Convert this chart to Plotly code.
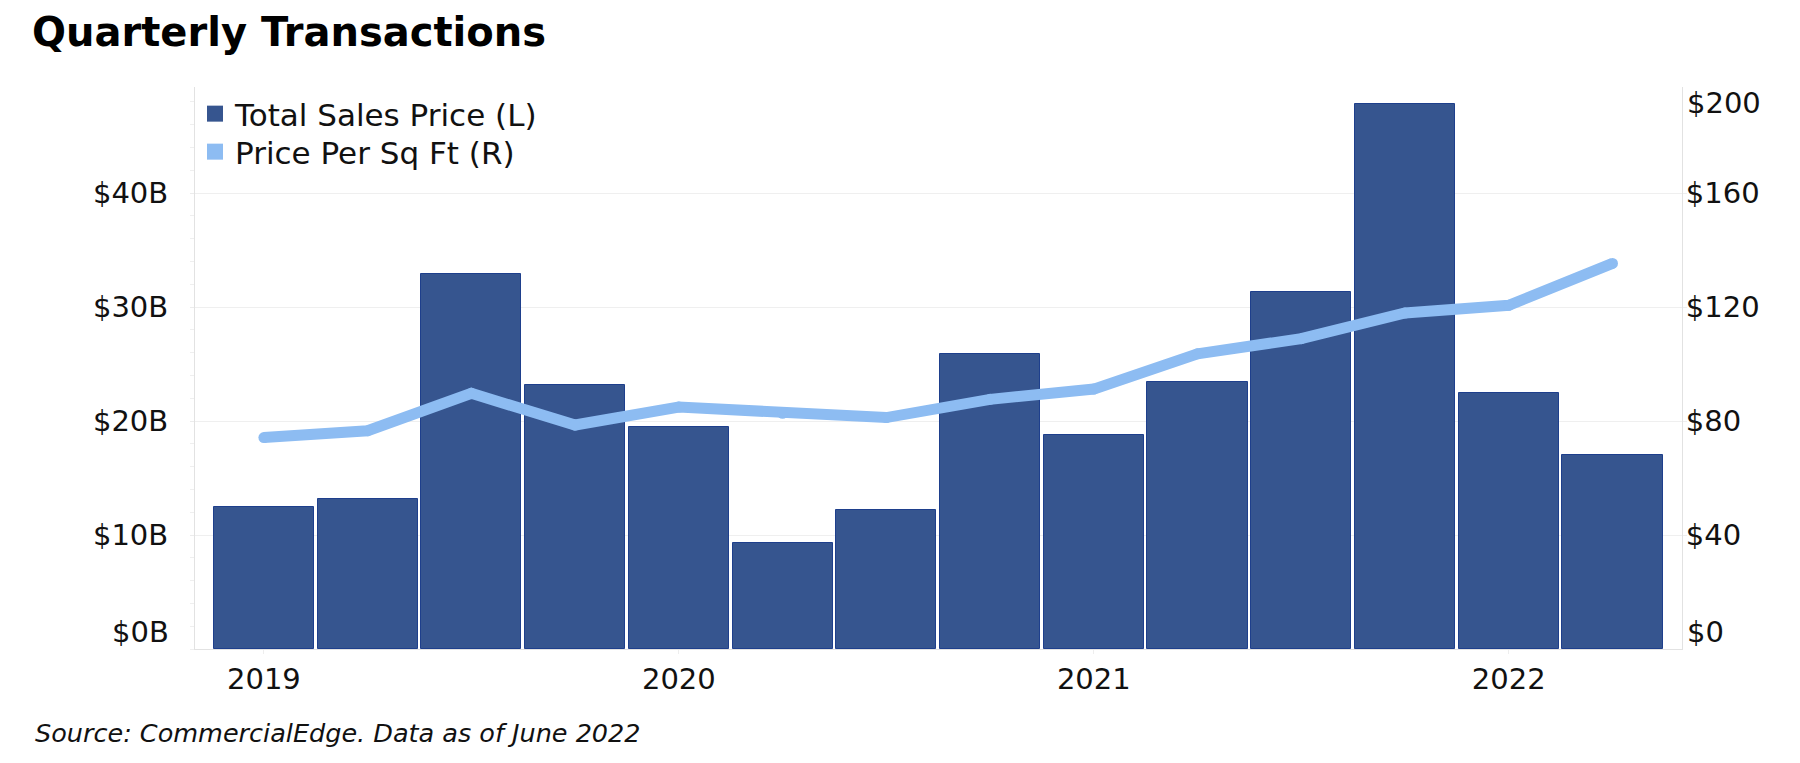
import plotly.graph_objects as go

quarters = ["2019 Q1", "2019 Q2", "2019 Q3", "2019 Q4",
            "2020 Q1", "2020 Q2", "2020 Q3", "2020 Q4",
            "2021 Q1", "2021 Q2", "2021 Q3", "2021 Q4",
            "2022 Q1", "2022 Q2"]
total_sales_b = [12.5, 13.2, 32.9, 23.2, 19.5, 9.3, 12.2, 25.9,
                 18.8, 23.4, 31.3, 47.8, 22.5, 17.0]
price_per_sqft = [74.2, 76.6, 89.7, 78.6, 84.9, 82.7, 81.2, 87.6,
                  91.2, 103.6, 108.9, 117.9, 120.6, 135.3]
year_ticks = ["2019 Q1", "2020 Q1", "2021 Q1", "2022 Q1"]
year_labels = ["2019", "2020", "2021", "2022"]
left_ticks = [0, 10, 20, 30, 40]
left_labels = ["$0B", "$10B", "$20B", "$30B", "$40B"]
right_ticks = [0, 40, 80, 120, 160, 200]
right_labels = ["$0", "$40", "$80", "$120", "$160", "$200"]

BAR = "#36558f"
BAR_EDGE = "#1e3f8c"
LINE = "#8dbcf2"
FONT = "'DejaVu Sans', Verdana, sans-serif"
TXT = "#111111"

L, R, T, B = 187, 126, 79, 122
PW, PH = 1800 - L - R, 763 - T - B

fig = go.Figure()
fig.add_trace(go.Bar(
    x=quarters, y=total_sales_b, width=0.965,
    marker=dict(color=BAR, line=dict(color=BAR_EDGE, width=1)),
    showlegend=False, yaxis="y"))
fig.add_trace(go.Scatter(
    x=quarters, y=price_per_sqft, mode="lines+markers",
    line=dict(color=LINE, width=11),
    marker=dict(color=LINE, size=11),
    showlegend=False, yaxis="y2"))
# legend swatches (two legends so line spacing can match)
fig.add_trace(go.Scatter(x=[None], y=[None], mode="markers", name="Total Sales Price (L)",
                         legend="legend",
                         marker=dict(symbol="square", size=20, color=BAR, line=dict(width=0))))
fig.add_trace(go.Scatter(x=[None], y=[None], mode="markers", name="Price Per Sq Ft (R)",
                         legend="legend2",
                         marker=dict(symbol="square", size=20, color=LINE, line=dict(width=0))))

legend_common = dict(x=0.0, xanchor="left", yanchor="middle", bgcolor="rgba(0,0,0,0)",
                     font=dict(size=31, family=FONT, color=TXT), itemsizing="trace")

annotations = [
    dict(text="<b>Quarterly Transactions</b>", xref="paper", yref="paper",
         x=(22 - L) / PW, y=1 + (T - 24) / PH, xanchor="left", yanchor="middle",
         showarrow=False, font=dict(size=40, color="#000000", family=FONT)),
    dict(text="<i>Source: CommercialEdge. Data as of June 2022</i>", xref="paper", yref="paper",
         x=(25 - L) / PW, y=-84 / PH, xanchor="left", yanchor="middle",
         showarrow=False, font=dict(size=25.5, color=TXT, family=FONT)),
    # edge tick labels nudged inside, as in the original
    dict(text=left_labels[0], xref="paper", yref="y", x=0, y=left_ticks[0],
         xanchor="right", yanchor="middle", xshift=-24, yshift=17, showarrow=False,
         font=dict(size=29, color=TXT, family=FONT)),
    dict(text=right_labels[0], xref="paper", yref="y2", x=1, y=right_ticks[0],
         xanchor="left", yanchor="middle", xshift=3, yshift=17, showarrow=False,
         font=dict(size=29, color=TXT, family=FONT)),
    dict(text=right_labels[-1], xref="paper", yref="paper", x=1, y=1,
         xanchor="left", yanchor="middle", xshift=3, yshift=-16, showarrow=False,
         font=dict(size=29, color=TXT, family=FONT)),
]

fig.update_layout(
    width=1800, height=763,
    paper_bgcolor="white", plot_bgcolor="white",
    margin=dict(l=L, r=R, t=T, b=B),
    font=dict(family=FONT, color=TXT, size=29),
    bargap=0,
    xaxis=dict(type="category", range=[-0.664, 13.67],
               tickmode="array", tickvals=year_ticks, ticktext=year_labels,
               showgrid=False, showline=True, linecolor="#e2e2e2", linewidth=1,
               ticks="outside", ticklen=4, tickcolor="#eeeeee",
               tickfont=dict(size=29), zeroline=False),
    yaxis=dict(range=[0, 49.3], tickmode="array", tickvals=left_ticks[1:], ticktext=left_labels[1:],
               showgrid=True, gridcolor="#efefef", gridwidth=1,
               showline=True, linecolor="#e2e2e2", linewidth=1,
               ticks="outside", ticklen=4, tickcolor="#ececec", ticklabelstandoff=16,
               minor=dict(dtick=2, ticks="outside", ticklen=4, tickcolor="#efefef", showgrid=False),
               zeroline=False, tickfont=dict(size=29)),
    yaxis2=dict(range=[0, 197.2], overlaying="y", side="right",
                tickmode="array", tickvals=right_ticks[1:-1], ticktext=right_labels[1:-1],
                showgrid=False, showline=True, linecolor="#e2e2e2", linewidth=1,
                ticks="outside", ticklen=4, tickcolor="#eeeeee", ticklabelstandoff=-7,
                zeroline=False, tickfont=dict(size=29)),
    legend=dict(y=1 - (106 - T) / PH, **legend_common),
    legend2=dict(y=1 - (144 - T) / PH, **legend_common),
    annotations=annotations,
)

fig.write_html("out.html")
